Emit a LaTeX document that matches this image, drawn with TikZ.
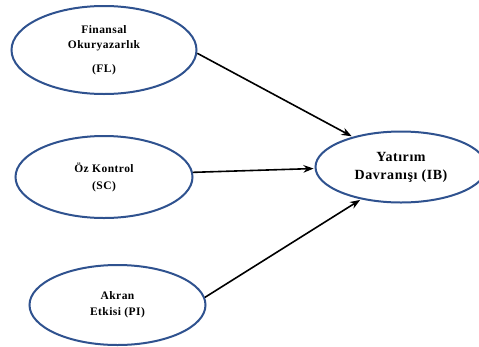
\documentclass[tikz,border=0pt]{standalone}
\usepackage{fontspec}
\setmainfont{Liberation Serif}
\usepackage{xcolor}
\usetikzlibrary{shapes.geometric, arrows.meta, positioning}
\definecolor{ellblue}{RGB}{47,82,143}

\begin{document}
\begin{tikzpicture}[
    x=1pt, y=-1pt,
    >=Stealth,
    construct/.style={ellipse, draw=ellblue, line width=2pt, fill=white, inner sep=0pt, align=center,
        font=\bfseries\fontsize{11.5}{15}\selectfont\addfontfeature{LetterSpace=4}},
    outcome/.style={construct, font=\bfseries\fontsize{14}{18}\selectfont\addfontfeature{LetterSpace=4}},
    path/.style={->, line width=1.6pt, shorten >=1pt}
]
\useasboundingbox (0,0) rectangle (479,346);

% ============================================================
% 1. INDEPENDENT CONSTRUCTS
% ============================================================
\node[construct, minimum width=185pt, minimum height=88pt] (fl) at (104,50)
    {Finansal\\ Okuryazarlık\\[9pt] (FL)};
\node[construct, minimum width=177pt, minimum height=82pt, font=\bfseries\fontsize{11.5}{17}\selectfont\addfontfeature{LetterSpace=4}] (sc) at (104,177)
    {Öz Kontrol\\ (SC)};
\node[construct, minimum width=176pt, minimum height=80pt, font=\bfseries\fontsize{11.5}{16}\selectfont\addfontfeature{LetterSpace=4}] (pi) at (117.5,305)
    {Akran\\ Etkisi (PI)};

% ============================================================
% 2. DEPENDENT CONSTRUCT
% ============================================================
\node[outcome, minimum width=171pt, minimum height=71pt] (ib) at (401,167)
    {Yatırım\\ Davranışı (IB)};

% ============================================================
% 3. PATHS
% ============================================================
\draw[path] (fl.-2) -- (ib.148);
\draw[path] (sc.3)  -- (ib.181);
\draw[path] (pi.5)  -- (ib.219);

\end{tikzpicture}
\end{document}
